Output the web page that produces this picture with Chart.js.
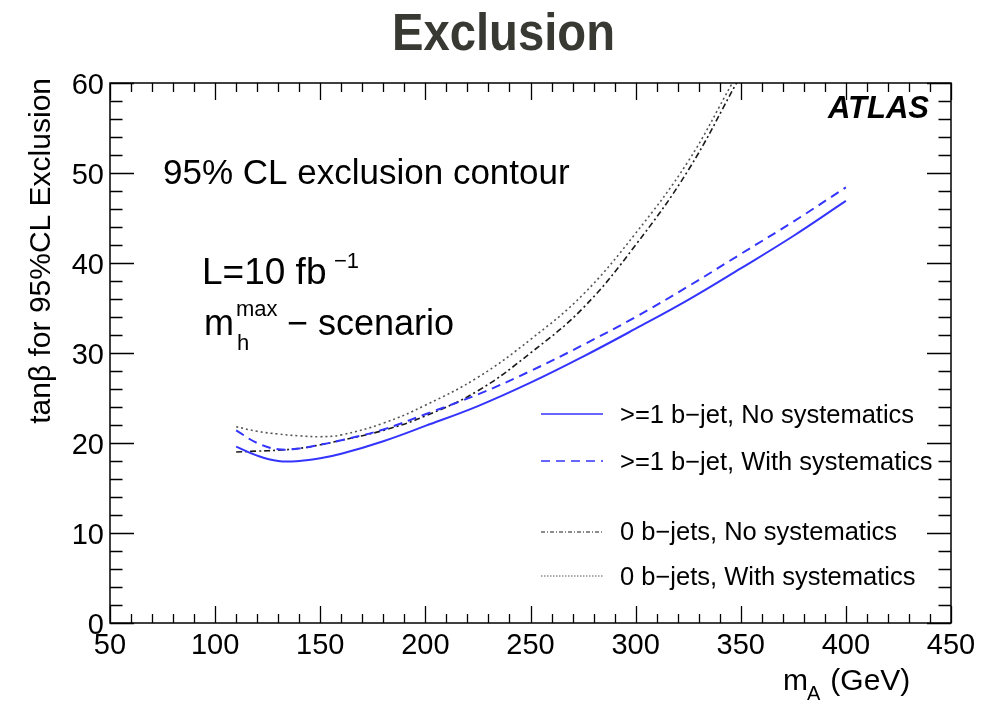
<!DOCTYPE html>
<html>
<head>
<meta charset="utf-8">
<title>Exclusion</title>
<script src="https://cdn.jsdelivr.net/npm/chart.js@4/dist/chart.umd.min.js"></script>
<style>
  html, body { margin: 0; padding: 0; background: #fff; }
  canvas { display: block; }
</style>
</head>
<body>
<canvas id="exclusion-chart" width="994" height="701"></canvas>
<script>
// tan(beta) reach vs m_A, one curve per b-jet selection / systematics option
const massA = [110, 120, 130, 140, 150, 160, 180, 200, 225, 250, 275, 300, 325, 350, 375, 400];
const oneBNoSyst = [19.6, 18.6, 18.0, 18.0, 18.3, 18.8, 20.2, 21.9, 24.1, 26.7, 29.6, 32.7, 35.9, 39.4, 43.0, 46.9];
const oneBWithSyst = [21.4, 20.0, 19.3, 19.4, 19.8, 20.3, 21.5, 23.2, 25.4, 28.0, 30.9, 34.0, 37.4, 41.0, 44.6, 48.4];

const massAZeroBNoSyst = [110, 120, 130, 140, 150, 160, 180, 200, 225, 250, 275, 300, 325, 348];
const zeroBNoSyst = [19.0, 19.1, 19.2, 19.4, 19.8, 20.3, 21.4, 23.0, 25.8, 30.0, 35.0, 42.0, 50.3, 60.0];
const massAZeroBWithSyst = [110, 120, 130, 140, 150, 160, 180, 200, 225, 250, 275, 300, 325, 346];
const zeroBWithSyst = [21.8, 21.3, 21.0, 20.8, 20.7, 20.9, 22.2, 24.2, 27.3, 31.5, 36.5, 43.3, 51.3, 60.0];

const seriesLabels = [
    '>=1 b\u2212jet, No systematics',
    '>=1 b\u2212jet, With systematics',
    '0 b\u2212jets, No systematics',
    '0 b\u2212jets, With systematics'
];

const xTickLabels = [50, 100, 150, 200, 250, 300, 350, 400, 450];
const yTickLabels = [0, 10, 20, 30, 40, 50, 60];
const xMinorStep = 10;
const yMinorStep = 2;

const FONT = '"Liberation Sans", Arial, Helvetica, sans-serif';
const BLUE = 'rgb(52, 52, 255)';

function points(xs, ys) {
    return xs.map((x, i) => ({ x, y: ys[i] }));
}

// frame with inward ROOT-style ticks, labels, annotations and legend
const rootFrame = {
    id: 'rootFrame',
    afterDraw(chart) {
        const { ctx, chartArea: a, scales: { x, y } } = chart;
        ctx.save();

        ctx.strokeStyle = '#000';
        ctx.lineWidth = 1.5;
        ctx.strokeRect(a.left, a.top, a.right - a.left, a.bottom - a.top);

        ctx.beginPath();
        for (let v = x.min; v <= x.max + 0.001; v += xMinorStep) {
            const px = Math.round(x.getPixelForValue(v)) + 0.5;
            const len = v % 50 === 0 ? 17 : 9;
            ctx.moveTo(px, a.bottom); ctx.lineTo(px, a.bottom - len);
            ctx.moveTo(px, a.top); ctx.lineTo(px, a.top + len);
        }
        for (let v = y.min; v <= y.max + 0.001; v += yMinorStep) {
            const py = Math.round(y.getPixelForValue(v)) + 0.5;
            const len = v % 10 === 0 ? 24 : 12.5;
            ctx.moveTo(a.left, py); ctx.lineTo(a.left + len, py);
            ctx.moveTo(a.right, py); ctx.lineTo(a.right - len, py);
        }
        ctx.lineWidth = 1.3;
        ctx.stroke();

        ctx.fillStyle = '#000';
        ctx.font = `29px ${FONT}`;
        ctx.textAlign = 'center';
        ctx.textBaseline = 'alphabetic';
        xTickLabels.forEach((v) => ctx.fillText(String(v), x.getPixelForValue(v), 654));
        ctx.textAlign = 'right';
        yTickLabels.forEach((v) => ctx.fillText(String(v), 104, y.getPixelForValue(v) + 10.5));

        // axis titles
        ctx.textAlign = 'left';
        ctx.font = `30px ${FONT}`;
        ctx.fillText('m', 783, 690);
        ctx.font = `20px ${FONT}`;
        ctx.fillText('A', 807, 700);
        ctx.font = `30px ${FONT}`;
        ctx.fillText(' (GeV)', 822, 690);

        ctx.save();
        ctx.translate(50, 78);
        ctx.rotate(-Math.PI / 2);
        ctx.textAlign = 'right';
        ctx.font = `30px ${FONT}`;
        ctx.fillText('tan\u03b2 for 95%CL Exclusion', 0, 0);
        ctx.restore();

        // title
        ctx.save();
        ctx.fillStyle = '#393934';
        ctx.font = `bold 51px ${FONT}`;
        const title = 'Exclusion';
        const tw = ctx.measureText(title).width;
        ctx.translate(392, 50);
        ctx.scale(223 / tw, 1);
        ctx.textAlign = 'left';
        ctx.fillText(title, 0, 0);
        ctx.restore();

        ctx.textAlign = 'left';
        ctx.font = `italic bold 31px ${FONT}`;
        ctx.fillText('ATLAS', 828, 118);

        ctx.font = `35px ${FONT}`;
        ctx.fillText('95% CL exclusion contour', 163, 184);

        ctx.font = `37px ${FONT}`;
        ctx.fillText('L=10 fb', 202, 284);
        ctx.font = `22px ${FONT}`;
        ctx.fillText('\u22121', 334, 268);

        ctx.font = `36px ${FONT}`;
        ctx.fillText('m', 204, 335);
        ctx.font = `22px ${FONT}`;
        ctx.fillText('max', 236, 316);
        ctx.fillText('h', 237, 350);
        ctx.font = `36px ${FONT}`;
        ctx.fillText('\u2212 scenario', 287, 335);

        // legend
        const lineY = [414, 461, 532, 576];
        const textY = [423, 470, 540, 585];
        ctx.font = `25.5px ${FONT}`;
        chart.data.datasets.forEach((ds, i) => {
            ctx.save();
            ctx.strokeStyle = ds.borderColor;
            ctx.lineWidth = i < 2 ? 1.6 : 1;
            ctx.setLineDash(ds.legendDash);
            ctx.beginPath();
            ctx.moveTo(541, lineY[i]);
            ctx.lineTo(603, lineY[i]);
            ctx.stroke();
            ctx.restore();
            ctx.fillText(ds.label, 620, textY[i]);
        });

        ctx.restore();
    }
};

new Chart(document.getElementById('exclusion-chart'), {
    type: 'line',
    data: {
        datasets: [
            { label: seriesLabels[0], data: points(massA, oneBNoSyst), borderColor: BLUE, borderWidth: 2, borderDash: [], legendDash: [] },
            { label: seriesLabels[1], data: points(massA, oneBWithSyst), borderColor: BLUE, borderWidth: 2, borderDash: [9, 6], legendDash: [9, 6] },
            { label: seriesLabels[2], data: points(massAZeroBNoSyst, zeroBNoSyst), borderColor: '#1a1a1a', borderWidth: 1.6, borderDash: [6, 3, 2, 3], legendDash: [4, 2, 1, 2] },
            { label: seriesLabels[3], data: points(massAZeroBWithSyst, zeroBWithSyst), borderColor: '#555', borderWidth: 1.6, borderDash: [2, 3], legendDash: [1.5, 1.5] }
        ]
    },
    options: {
        responsive: false,
        animation: false,
        layout: { padding: { left: 110, right: 43, top: 83, bottom: 78 } },
        scales: {
            x: { type: 'linear', min: 50, max: 450, display: false },
            y: { type: 'linear', min: 0, max: 60, display: false }
        },
        elements: {
            point: { radius: 0 },
            line: { tension: 0.4, fill: false }
        },
        plugins: {
            legend: { display: false },
            tooltip: { enabled: false }
        }
    },
    plugins: [rootFrame]
});
</script>
</body>
</html>
